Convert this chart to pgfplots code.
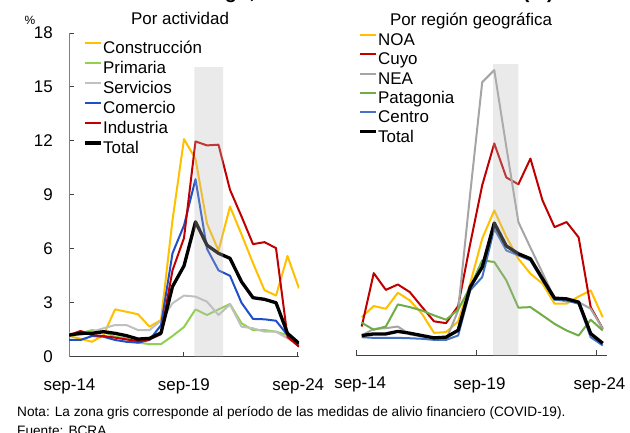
\documentclass[border=0pt]{standalone}
\usepackage{fontspec}
\setmainfont{Liberation Sans}
\usepackage{pgfplots}
\pgfplotsset{compat=1.18}
\usepackage{pgfplotstable}

\definecolor{cYellow}{HTML}{FFC000}
\definecolor{cGreenL}{HTML}{92D050}
\definecolor{cGrayL}{HTML}{C0C0C0}
\definecolor{cBlueL}{HTML}{1F4FC8}
\definecolor{cRed}{HTML}{C00000}
\definecolor{cGreenR}{HTML}{70AD47}
\definecolor{cGrayR}{HTML}{A5A5A5}
\definecolor{cBlueR}{HTML}{4472C4}
\definecolor{cBand}{HTML}{BBBBBB}

% Por actividad (semestral)
\pgfplotstableread{
i  con   pri   ser   com   ind   tot
0  1.15  1.15  1.30  0.93  1.20  1.20
1  1.00  1.30  1.20  0.93  1.43  1.30
2  0.83  1.48  1.39  1.15  1.20  1.30
3  1.20  1.39  1.58  1.11  1.15  1.39
4  2.63  1.11  1.76  0.93  1.06  1.30
5  2.50  1.02  1.76  0.83  0.96  1.17
6  2.36  0.78  1.48  0.78  0.87  0.98
7  1.67  0.70  1.48  0.93  0.96  1.02
8  2.04  0.70  2.00  1.75  1.25  1.32
9  7.60  1.15  2.97  5.75  4.80  3.90
10 12.10 1.65  3.40  7.30  6.60  5.05
11 11.00 2.63  3.34  9.87  11.97 7.50
12 7.40  2.32  3.06  6.00  11.75 6.20
13 5.90  2.63  2.32  4.80  11.79 5.75
14 8.35  2.93  2.90  4.50  9.28  5.47
15 6.80  1.86  1.67  3.00  7.80  4.17
16 5.20  1.48  1.58  2.10  6.26  3.28
17 3.70  1.48  1.39  2.08  6.37  3.19
18 3.40  1.39  1.39  2.00  6.04  3.00
19 5.60  1.20  1.02  1.20  1.10  1.30
20 3.80  0.65  0.65  0.56  0.56  0.74
}\actividad

% Por region geografica (semestral)
\pgfplotstableread{
i  noa   cuyo  nea   pat   cen   tot
0  2.13  1.61  1.11  1.82  1.02  1.11
1  2.75  4.58  1.48  1.43  0.98  1.20
2  2.60  3.65  1.52  1.61  0.98  1.20
3  3.49  3.95  1.61  2.84  0.98  1.34
4  3.06  3.52  1.17  2.69  0.96  1.24
5  2.32  2.70  1.06  2.50  0.93  1.11
6  1.26  1.90  0.98  2.23  0.87  0.98
7  1.30  1.80  0.87  1.99  0.87  1.02
8  1.89  2.75  2.50  2.55  1.11  1.40
9  4.00  6.20  9.00  3.80  3.62  3.80
10 6.50  9.47  15.20 5.29  4.36  4.92
11 8.07  11.79 15.87 5.20  7.05  7.37
12 6.60  9.90  11.60 4.18  5.84  6.09
13 5.38  9.52  7.42  2.66  5.57  5.66
14 4.55  10.95 6.00  2.69  5.29  5.38
15 4.00  8.63  4.60  2.23  4.17  4.27
16 2.88  7.14  3.16  1.76  3.10  3.19
17 2.88  7.42  3.00  1.39  3.06  3.15
18 3.28  6.57  2.97  1.11  2.88  2.97
19 3.62  2.69  2.60  1.99  1.02  1.22
20 2.13  1.49  1.49  1.39  0.56  0.68
}\region

\pgfplotsset{
  panel/.style={
    scale only axis,
    height=323.7bp,
    ymin=0, ymax=18,
    axis x line*=bottom,
    tick align=inside,
    major tick length=6bp,
    x axis line style={black!75, line width=0.9bp},
    tick style={black!75, line width=0.9bp},
    ticklabel style={font=\fontsize{17}{17}\selectfont, inner sep=0pt},
    /pgf/number format/assume math mode=true,
    xticklabels={sep-14,sep-19,sep-24},
    xticklabel style={anchor=north, yshift=-21.5bp},
    legend cell align=left,
    legend image code/.code={\draw[##1] (0bp,6bp) -- (16bp,6bp);},
    legend style={draw=none, fill=none, inner sep=0pt, outer sep=0pt,
      font=\fontsize{17}{17}\selectfont, column sep=0.5bp,
      nodes={inner sep=0pt, text height=12bp, text depth=3bp}},
    every axis plot/.append style={line width=2bp, line join=round},
  },
  totline/.style={black, line width=3.3bp},
}

\begin{document}
\begin{tikzpicture}[x=1bp, y=1bp]
\useasboundingbox (0,0) rectangle (630,432);

% cut-off main title (only descenders visible)
\node[anchor=base east, inner sep=0pt, font=\bfseries\fontsize{20}{20}\selectfont] at (554,433)
  {Irregularidad de la cartera de las firmas con alto riesgo, total del sistema financiero (\%)};

% ---------------- Left panel ----------------
\begin{axis}[panel,
  at={(69bp,75.3bp)}, anchor=south west,
  width=230bp,
  xmin=0, xmax=20,
  xtick={0,9.94,19.89},
  axis y line*=left,
  y axis line style={black!50, line width=0.9bp},
  major tick length=5bp,
  ytick={0,3,6,9,12,15,18},
  yticklabel style={anchor=east, xshift=-16bp},
  xticklabel style={xshift=0.5bp},
  legend style={at={(0.0622,0.9744)}, anchor=north west, row sep=5bp},
]
\addplot[cYellow] table[x=i, y=con] {\actividad};
\addlegendentry{Construcción}
\addplot[cGreenL] table[x=i, y=pri] {\actividad};
\addlegendentry{Primaria}
\addplot[cGrayL] table[x=i, y=ser] {\actividad};
\addlegendentry{Servicios}
\addplot[cBlueL] table[x=i, y=com] {\actividad};
\addlegendentry{Comercio}
\addplot[cRed] table[x=i, y=ind] {\actividad};
\addlegendentry{Industria}
\addplot[totline] table[x=i, y=tot] {\actividad};
\addlegendentry{Total}
\addplot[draw=none, fill=cBand, fill opacity=0.3, forget plot]
  coordinates {(10.9,0) (10.9,16.1) (13.4,16.1) (13.4,0)} \closedcycle;
\end{axis}

% ---------------- Right panel ----------------
\begin{axis}[panel,
  at={(356.7bp,76.5bp)}, anchor=south west,
  width=250bp,
  xmin=-0.415, xmax=20.33,
  xtick={-0.415,9.49,19.44},
  axis y line=none,
  ytick=\empty,
  xticklabel style={xshift=3.5bp},
  legend style={at={(0.0064,0.9947)}, anchor=north west, row sep=4.3bp},
]
\addplot[cYellow] table[x=i, y=noa] {\region};
\addlegendentry{NOA}
\addplot[cRed] table[x=i, y=cuyo] {\region};
\addlegendentry{Cuyo}
\addplot[cGrayR] table[x=i, y=nea] {\region};
\addlegendentry{NEA}
\addplot[cGreenR] table[x=i, y=pat] {\region};
\addlegendentry{Patagonia}
\addplot[cBlueR] table[x=i, y=cen] {\region};
\addlegendentry{Centro}
\addplot[totline] table[x=i, y=tot] {\region};
\addlegendentry{Total}
\addplot[draw=none, fill=cBand, fill opacity=0.3, forget plot]
  coordinates {(10.9,0) (10.9,16.2) (13.0,16.2) (13.0,0)} \closedcycle;
\end{axis}

% panel titles and unit
\node[anchor=base, inner sep=0pt, font=\fontsize{17}{17}\selectfont] at (180,407) {Por actividad};
\node[anchor=base, inner sep=0pt, font=\fontsize{17}{17}\selectfont] at (471,406) {Por región geográfica};
\node[anchor=base, inner sep=0pt, font=\fontsize{12}{12}\selectfont] at (30,407) {\%};

% note and source
\node[anchor=base west, inner sep=0pt, font=\fontsize{13.7}{13.7}\selectfont] at (17,16)
  {Nota: La zona gris corresponde al período de las medidas de alivio financiero (COVID-19).};
\node[anchor=base west, inner sep=0pt, font=\fontsize{13.7}{13.7}\selectfont] at (17,-3.5)
  {Fuente: BCRA};
\end{tikzpicture}
\end{document}
